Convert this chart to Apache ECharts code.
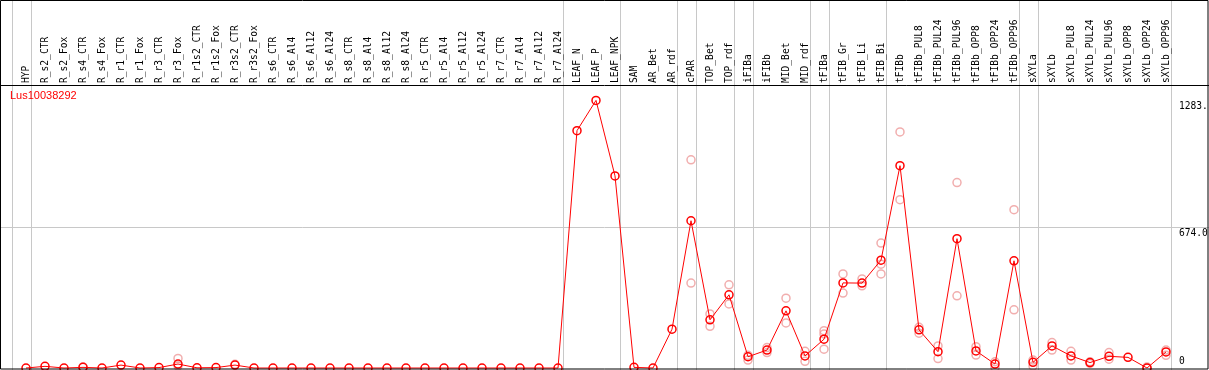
<!DOCTYPE html>
<html>
<head>
<meta charset="utf-8">
<script src="https://cdn.jsdelivr.net/npm/echarts@6/dist/echarts.min.js"></script>
<style>
  html, body { margin: 0; padding: 0; background: #fff; }
  #chart { width: 1209px; height: 370px; }
</style>
</head>
<body>
<div id="chart"></div>
<script>
var geneName = "Lus10038292";

var categories = [
  "HYP", "R_s2_CTR", "R_s2_Fox", "R_s4_CTR", "R_s4_Fox", "R_r1_CTR", "R_r1_Fox",
  "R_r3_CTR", "R_r3_Fox", "R_r1s2_CTR", "R_r1s2_Fox", "R_r3s2_CTR", "R_r3s2_Fox",
  "R_s6_CTR", "R_s6_Al4", "R_s6_Al12", "R_s6_Al24", "R_s8_CTR", "R_s8_Al4",
  "R_s8_Al12", "R_s8_Al24", "R_r5_CTR", "R_r5_Al4", "R_r5_Al12", "R_r5_Al24",
  "R_r7_CTR", "R_r7_Al4", "R_r7_Al12", "R_r7_Al24", "LEAF_N", "LEAF_P", "LEAF_NPK",
  "SAM", "AR_Bet", "AR_rdf", "cPAR", "TOP_Bet", "TOP_rdf", "iFIBa", "iFIBb",
  "MID_Bet", "MID_rdf", "tFIBa", "tFIB_Gr", "tFIB_Li", "tFIB_Bi", "tFIBb",
  "tFIBb_PUL8", "tFIBb_PUL24", "tFIBb_PUL96", "tFIBb_OPP8", "tFIBb_OPP24", "tFIBb_OPP96",
  "sXYLa", "sXYLb", "sXYLb_PUL8", "sXYLb_PUL24", "sXYLb_PUL96", "sXYLb_OPP8",
  "sXYLb_OPP24", "sXYLb_OPP96"
];

// mean expression per tissue
var meanValues = [
  0, 8, 0, 3, 0, 14, 0, 2, 19, 1, 2, 14, 0,
  0, 0, 0, 0, 0, 0, 0, 0, 0, 0, 0, 0, 0, 0, 0, 0,
  1138, 1283, 921,
  3, 0, 186, 706, 231, 351, 54, 86, 274, 58,
  138, 408, 407, 517, 970,
  183, 78, 620, 82, 19, 514,
  27, 106, 58, 26, 56, 51, 0, 77
];

// replicate values (null = not visible)
var rep1 = [
  null, null, null, 5, null, null, null, null, 46, null, null, 18, null,
  null, null, null, null, null, null, null, null, null, null, null, null, null, null, null, null,
  null, null, null,
  null, null, null, 998, 259, 399, 61, 98, 335, 80,
  179, 451, 427, 599, 1132,
  195, 106, 889, 102, 30, 759,
  38, 122, 80, 30, 74, null, 5, 86
];
var rep2 = [
  null, null, null, null, null, null, null, null, 10, null, null, null, null,
  null, null, null, null, null, null, null, null, null, null, null, null, null, null, null, null,
  null, null, null,
  null, null, null, 407, 200, 307, 38, 74, 216, 32,
  163, 359, 394, 498, 807,
  167, 45, 346, 62, 3, 279,
  10, 86, 38, 22, 42, null, 0, 61
];
var rep3 = [
  null, null, null, null, null, null, null, null, null, null, null, null, null,
  null, null, null, null, null, null, null, null, null, null, null, null, null, null, null, null,
  null, null, null,
  null, null, null, null, null, null, null, null, null, null,
  90, null, null, 451, null,
  null, null, null, null, null, null,
  null, null, null, null, null, null, null, null
];

// index of the last tissue in each group (separators drawn after it)
var groupEnds = [-1, 0, 28, 31, 34, 35, 37, 38, 41, 42, 45, 52, 53, 60];
var scaleLabels = [1283, 674, 0];
var scaleTexts = ["1283.", "674.0", "0"];

var meanData = meanValues.map(function (v, i) { return [i, v]; });
var repData = [];
[rep1, rep2, rep3].forEach(function (arr) {
  arr.forEach(function (v, i) { if (v !== null) repData.push([i, v]); });
});

var chart = echarts.init(document.getElementById("chart"));

var option = {
  animation: false,
  grid: { left: 7, width: 1197, top: 86, height: 282 },
  xAxis: {
    type: "value",
    position: "top",
    min: -1,
    max: 62,
    interval: 1,
    axisLine: { show: false },
    axisTick: { show: false },
    splitLine: { show: false },
    axisLabel: {
      rotate: 90,
      margin: 3,
      color: "#000",
      fontFamily: "DejaVu Sans Mono",
      fontSize: 9.6,
      formatter: function (v) { return categories[v] || ""; }
    }
  },
  yAxis: {
    type: "value",
    min: 0,
    max: 1352,
    show: false
  },
  series: [
    {
      type: "scatter",
      data: repData,
      symbol: "circle",
      symbolSize: 8,
      itemStyle: { color: "rgba(0,0,0,0)", borderColor: "#ee9a9a", borderWidth: 1.5 },
      z: 2
    },
    {
      type: "line",
      data: meanData,
      symbol: "circle",
      symbolSize: 8,
      clip: false,
      lineStyle: { color: "#ff0000", width: 1 },
      itemStyle: { color: "rgba(0,0,0,0)", borderColor: "#ff0000", borderWidth: 1.5 },
      z: 3
    }
  ]
};
chart.setOption(option);

// separators, frame and scale texts placed through the chart's own scales
var graphics = [];
groupEnds.forEach(function (g) {
  var x = Math.round(chart.convertToPixel({ xAxisIndex: 0 }, g + 0.25)) + 0.5;
  graphics.push({
    type: "line", z: 0,
    shape: { x1: x, y1: 0, x2: x, y2: 370 },
    style: { stroke: "#c8c8c8", lineWidth: 1 }
  });
});
var y674 = Math.round(chart.convertToPixel({ yAxisIndex: 0 }, 674)) + 0.5;
graphics.push({
  type: "line", z: 0,
  shape: { x1: 0, y1: y674, x2: 1209, y2: y674 },
  style: { stroke: "#c8c8c8", lineWidth: 1 }
});
scaleLabels.forEach(function (v, k) {
  var y = chart.convertToPixel({ yAxisIndex: 0 }, v);
  graphics.push({
    type: "text", z: 10,
    x: 1179, y: v === 0 ? y - 12 : y + 1,
    style: { text: scaleTexts[k], fill: "#000", font: "9.6px 'DejaVu Sans Mono'" }
  });
});
graphics.push({
  type: "text", z: 10, x: 10, y: 90,
  style: { text: geneName, fill: "#ff0000", font: "11px 'Liberation Sans'" }
});
// outer frame and header separator
graphics.push({
  type: "rect", z: 20,
  shape: { x: 0.5, y: 0.5, width: 1207.5, height: 368.5 },
  style: { fill: null, stroke: "#000", lineWidth: 1 }
});
graphics.push({
  type: "line", z: 20,
  shape: { x1: 0, y1: 85.5, x2: 1209, y2: 85.5 },
  style: { stroke: "#000", lineWidth: 1 }
});
chart.setOption({ graphic: graphics });
</script>
</body>
</html>
